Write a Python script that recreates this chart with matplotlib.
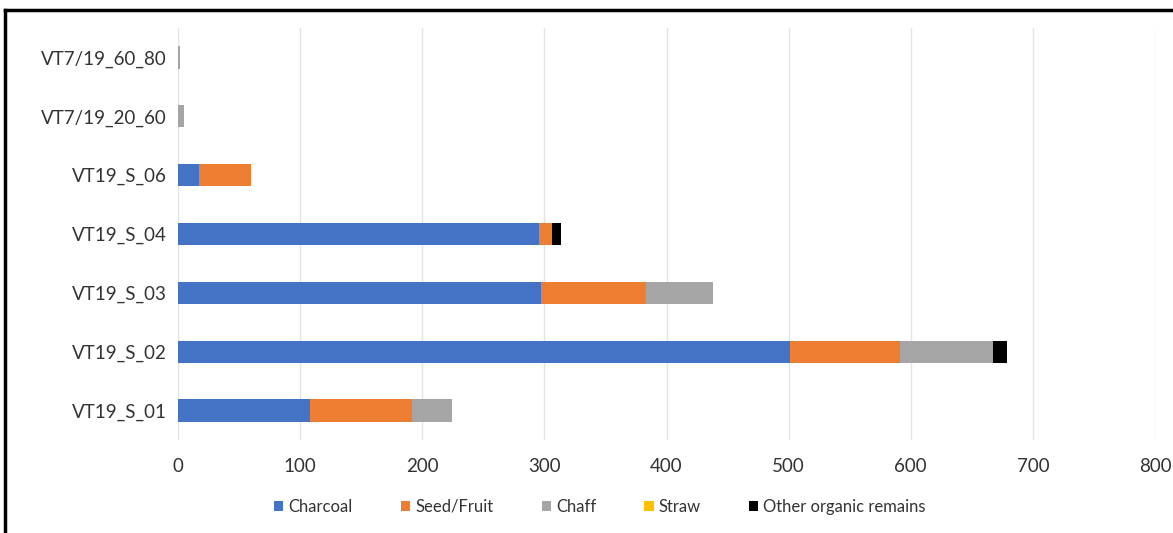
import matplotlib.pyplot as plt
import numpy as np
from matplotlib.lines import Line2D

plt.rcParams['font.family'] = ['Lato', 'DejaVu Sans']

# samples, bottom to top
samples = ['VT19_S_01', 'VT19_S_02', 'VT19_S_03', 'VT19_S_04', 'VT19_S_06',
           'VT7/19_20_60', 'VT7/19_60_80']

charcoal = [108, 501, 297, 296, 17, 0, 0]
seed_fruit = [84, 90, 86, 10, 43, 0, 0]
chaff = [32, 76, 55, 0, 0, 5, 2]
straw = [0, 0, 0, 0, 0, 0, 0]
other = [0, 12, 0, 8, 0, 0, 0]

series = [
    ('Charcoal', charcoal, '#4472C4'),
    ('Seed/Fruit', seed_fruit, '#ED7D31'),
    ('Chaff', chaff, '#A5A5A5'),
    ('Straw', straw, '#FFC000'),
    ('Other organic remains', other, '#000000'),
]

fig = plt.figure(figsize=(11.73, 5.33), dpi=100)
ax = fig.add_axes([178 / 1173, 1 - 440 / 533, (1155 - 178) / 1173, (440 - 28) / 533])

y = np.arange(len(samples))
left = np.zeros(len(samples))
for name, vals, col in series:
    vals = np.array(vals, dtype=float)
    ax.barh(y, vals, left=left, height=0.38, color=col, label=name, zorder=3)
    left += vals

ax.set_xlim(0, 800)
ax.set_ylim(-0.5, len(samples) - 0.5)
ax.set_xticks(np.arange(0, 801, 100))
ax.set_yticks(y)
ax.set_yticklabels(samples)
ax.grid(axis='x', color='#E4E4E4', linewidth=1, zorder=0)
for s in ax.spines.values():
    s.set_visible(False)
ax.tick_params(axis='both', length=0, labelsize=13.5, colors='#333333', pad=8)
ax.tick_params(axis='x', pad=13)

fig.legend(loc='upper center', bbox_to_anchor=(600 / 1173, 1 - 484 / 533), ncol=5,
           frameon=False, fontsize=12, handlelength=0.55, handleheight=0.55,
           handletextpad=0.3, columnspacing=2.9, labelcolor='#333333')

# outer frame (top and left edges)
fig.add_artist(Line2D([5 / 1173, 1], [1 - 10 / 533, 1 - 10 / 533], color='black', lw=2.5))
fig.add_artist(Line2D([5 / 1173, 5 / 1173], [0, 1 - 10 / 533], color='black', lw=2.5))

fig.savefig('out.png', dpi=100)
